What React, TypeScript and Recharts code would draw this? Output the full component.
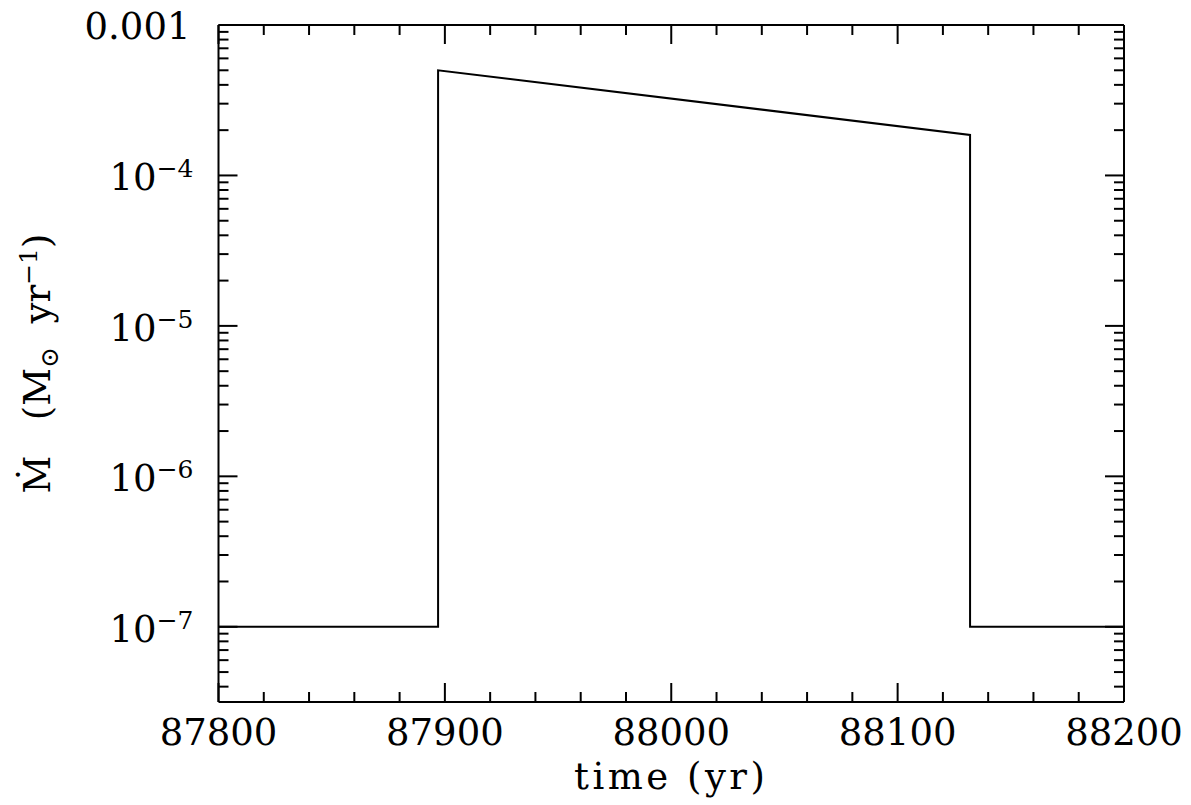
import React from 'react';
import { LineChart, Line, XAxis, YAxis } from 'recharts';

// 질량 손실률 곡선 (로그 스케일)
const TIME = [87800, 87897, 87897, 88132, 88132, 88200];
const MDOT = [1e-7, 1e-7, 5e-4, 1.86e-4, 1e-7, 1e-7];

const X_MAJOR = [87800, 87900, 88000, 88100, 88200];
const X_MINOR = [
  87820, 87840, 87860, 87880, 87920, 87940, 87960, 87980,
  88020, 88040, 88060, 88080, 88120, 88140, 88160, 88180,
];
const Y_MAJOR = [1e-7, 1e-6, 1e-5, 1e-4, 1e-3];
const Y_MAJOR_LABELS = ['−7', '−6', '−5', '−4', '0.001'];
const Y_MINOR_MULT = [2, 3, 4, 5, 6, 7, 8, 9];
const Y_DECADES = [-8, -7, -6, -5, -4];

const Y_MIN = Math.pow(10, -7.5);
const Y_MAX = 1e-3;

const data = TIME.map((t, i) => ({ t, m: MDOT[i] }));

const Y_MINOR = Y_DECADES.flatMap((d) =>
  Y_MINOR_MULT.map((k) => k * Math.pow(10, d)),
).filter((v) => v > Y_MIN && v < Y_MAX);

const Y_TICKS = [...Y_MAJOR, ...Y_MINOR];
const X_TICKS = [...X_MAJOR, ...X_MINOR];

const FONT = '"DejaVu Serif", serif';
const MAJOR_LEN = 19;
const MINOR_LEN = 10;

const isMajorY = (v: number) => Y_MAJOR.some((m) => Math.abs(v / m - 1) < 1e-6);
const isMajorX = (v: number) => X_MAJOR.includes(v);

function LeftTick(props: any) {
  const { x, y, payload } = props;
  const v = payload.value as number;
  const idx = Y_MAJOR.findIndex((m) => Math.abs(v / m - 1) < 1e-6);
  const major = idx >= 0;
  return (
    <g>
      <line x1={x} y1={y} x2={x + (major ? MAJOR_LEN : MINOR_LEN)} y2={y} stroke="#000" strokeWidth={2} />
      {major && idx === Y_MAJOR.length - 1 && (
        <text x={x - 28} y={y + 14} textAnchor="end" fontFamily={FONT} fontSize={37} fill="#000">
          {Y_MAJOR_LABELS[idx]}
        </text>
      )}
      {major && idx < Y_MAJOR.length - 1 && (
        <text x={x - 25} y={y + 15} textAnchor="end" fontFamily={FONT} fontSize={37} fill="#000">
          <tspan>10</tspan>
          <tspan dy={-13} fontSize={25}>{Y_MAJOR_LABELS[idx]}</tspan>
        </text>
      )}
    </g>
  );
}

function RightTick(props: any) {
  const { x, y, payload } = props;
  const major = isMajorY(payload.value);
  return <line x1={x} y1={y} x2={x - (major ? MAJOR_LEN : MINOR_LEN)} y2={y} stroke="#000" strokeWidth={2} />;
}

function BottomTick(props: any) {
  const { x, y, payload } = props;
  const major = isMajorX(payload.value);
  return (
    <g>
      <line x1={x} y1={y} x2={x} y2={y - (major ? MAJOR_LEN : MINOR_LEN)} stroke="#000" strokeWidth={2} />
      {major && (
        <text x={x} y={y + 43} textAnchor="middle" fontFamily={FONT} fontSize={37} fill="#000">
          {payload.value}
        </text>
      )}
    </g>
  );
}

function TopTick(props: any) {
  const { x, y, payload } = props;
  const major = isMajorX(payload.value);
  return <line x1={x} y1={y} x2={x} y2={y + (major ? MAJOR_LEN : MINOR_LEN)} stroke="#000" strokeWidth={2} />;
}

function YTitle(props: any) {
  const vb = props.viewBox || { x: 0, y: 0, width: 0, height: 0 };
  const cx = 50;
  const cy = vb.y + vb.height / 2;
  return (
    <text
      x={cx}
      y={cy}
      transform={`rotate(-90 ${cx} ${cy})`}
      textAnchor="middle"
      fontFamily={FONT}
      fontSize={37}
      fill="#000"
      xmlSpace="preserve"
    >
      <tspan>Ṁ{'   '}(M</tspan>
      <tspan dy={8} fontSize={25}>⊙</tspan>
      <tspan dy={-8}>{'  '}yr</tspan>
      <tspan dy={-13} fontSize={25}>−1</tspan>
      <tspan dy={13}>)</tspan>
    </text>
  );
}

function XTitle(props: any) {
  const vb = props.viewBox || { x: 0, y: 0, width: 0, height: 0 };
  return (
    <text
      x={vb.x + vb.width / 2}
      y={789}
      textAnchor="middle"
      fontFamily={FONT}
      fontSize={37}
      letterSpacing={3.5}
      fill="#000"
      xmlSpace="preserve"
    >
      time (yr)
    </text>
  );
}

const axisLine = { stroke: '#000', strokeWidth: 2 };

export default function App() {
  return (
    <div style={{ position: 'absolute', left: 0, top: 0, background: '#fff' }}>
      <LineChart
        width={1191}
        height={805}
        data={data}
        margin={{ top: 24, right: 66, bottom: 0, left: 0 }}
      >
        <XAxis
          xAxisId="b"
          dataKey="t"
          type="number"
          domain={[87800, 88200]}
          ticks={X_TICKS}
          interval={0}
          height={103}
          tickSize={0}
          tickMargin={0}
          tickLine={false}
          axisLine={axisLine}
          tick={<BottomTick />}
          label={<XTitle />}
        />
        <XAxis
          xAxisId="t"
          orientation="top"
          dataKey="t"
          type="number"
          domain={[87800, 88200]}
          ticks={X_TICKS}
          interval={0}
          height={1}
          tickSize={0}
          tickMargin={0}
          tickLine={false}
          axisLine={axisLine}
          tick={<TopTick />}
        />
        <YAxis
          yAxisId="l"
          scale="log"
          type="number"
          domain={[Y_MIN, Y_MAX]}
          allowDataOverflow
          ticks={Y_TICKS}
          interval={0}
          width={218.5}
          tickSize={0}
          tickMargin={0}
          tickLine={false}
          axisLine={axisLine}
          tick={<LeftTick />}
          label={<YTitle />}
        />
        <YAxis
          yAxisId="r"
          orientation="right"
          scale="log"
          type="number"
          domain={[Y_MIN, Y_MAX]}
          allowDataOverflow
          ticks={Y_TICKS}
          interval={0}
          width={1}
          tickSize={0}
          tickMargin={0}
          tickLine={false}
          axisLine={axisLine}
          tick={<RightTick />}
        />
        <Line
          xAxisId="b"
          yAxisId="l"
          dataKey="m"
          type="linear"
          stroke="#000"
          strokeWidth={2}
          dot={false}
          isAnimationActive={false}
        />
      </LineChart>
    </div>
  );
}
